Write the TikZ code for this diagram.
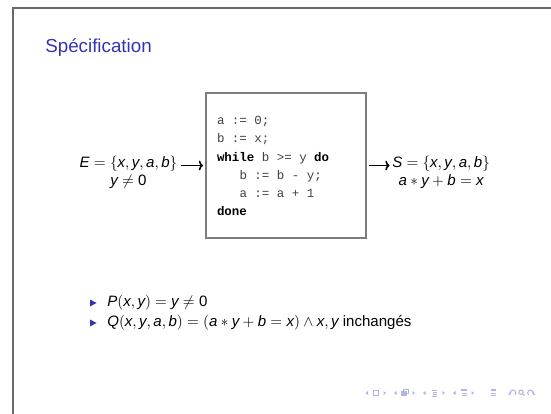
\documentclass[tikz,border=0pt]{standalone}
\usepackage{fontspec}
\setsansfont{Liberation Sans}
\setmonofont{Liberation Mono}
\usetikzlibrary{arrows.meta}
\definecolor{struct}{RGB}{51,51,179}
\definecolor{framegray}{RGB}{105,105,105}
\definecolor{boxgray}{RGB}{125,125,125}
\definecolor{navc}{RGB}{180,180,226}
\newcommand\mi[1]{\mbox{\sffamily\itshape #1}}
\newcommand\mup[1]{\mbox{\sffamily #1}}
\newcommand\kw[1]{{\color{black}\bfseries #1}}
\begin{document}
\begin{tikzpicture}[x=0.6579pt,y=-0.6579pt,
  body/.style={font=\fontsize{9.9}{12}\selectfont\sffamily, inner sep=0pt},
  codeline/.style={font=\fontsize{8.2}{12}\selectfont\ttfamily, inner sep=0pt, anchor=base west, text=black!75},
  flow/.style={-{To[length=2.8pt,width=6.4pt]}, line width=1.05pt},
  bullet/.style={fill=struct},
  navline/.style={draw=navc, line width=0.55pt},
  navfill/.style={fill=navc}
]
\useasboundingbox (0,0) rectangle (551,414);
% slide frame
\draw[framegray, line width=0.9pt] (551,8) -- (13,8) -- (13,414);
% title
\node[inner sep=0pt, anchor=base west, text=struct, font=\fontsize{12.35}{15}\selectfont\sffamily] (title) at (45,52.5) {Spécification};

% program box
\node[draw=boxgray, line width=1.1pt, minimum width=105.3pt, minimum height=95.4pt, inner sep=0pt] (box) at (286,165.5) {};
\node[codeline] (c1) at (216.7,124.5) {a := 0;};
\node[codeline] (c2) at (216.7,142.8) {b := x;};
\node[codeline] (c3) at (216.7,161.1) {\kw{while} b >= y \kw{do}};
\node[codeline] (c4) at (239.2,179.4) {b := b - y;};
\node[codeline] (c5) at (239.2,197.7) {a := a + 1};
\node[codeline] (c6) at (216.7,216.0) {\kw{done}};

% input
\node[body, anchor=base] (e1) at (128.5,168) {$\mi{E} = \{\mi{x},\mi{y},\mi{a},\mi{b}\}$};
\node[body, anchor=base, yshift=-11.2pt] (e2) at (e1.base) {$\mi{y} \neq \mup{0}$};
% output
\node[body, anchor=base west] (s1) at (392,168) {$\mi{S} = \{\mi{x},\mi{y},\mi{a},\mi{b}\}$};
\node[body, anchor=base, yshift=-11.2pt] (s2) at (s1.base) {$\mi{a}\ast\mi{y}+\mi{b} = \mi{x}$};

\draw[flow, shorten <=2.4pt, shorten >=1.4pt] (e1.east |- box.west) -- (box.west);
\draw[flow, shorten <=1.2pt, shorten >=1.6pt] (box.east) -- (s1.west |- box.east);

% items
\fill[bullet] (90,299.5) -- (96.5,303) -- (90,306.5) -- cycle;
\fill[bullet] (90,319.5) -- (96.5,323) -- (90,326.5) -- cycle;
\node[body, anchor=base west] (p) at (107,307) {$\mi{P}(\mi{x},\mi{y}) = \mi{y} \neq \mup{0}$};
\node[body, anchor=base west] (q) at (107,327) {$\mi{Q}(\mi{x},\mi{y},\mi{a},\mi{b}) = (\mi{a}\ast\mi{y}+\mi{b} = \mi{x}) \wedge \mi{x},\mi{y}$ inchangés};

% navigation symbols
\begin{scope}
% slide
\fill[navc] (368,391) -- (365.5,393) -- (368,395) -- cycle;
\draw[navline] (373,390.8) rectangle (378.5,395.2);
\fill[navc] (383.5,391) -- (386,393) -- (383.5,395) -- cycle;
% frame
\fill[navc] (396.5,391) -- (394,393) -- (396.5,395) -- cycle;
\draw[navline] (403.5,389.3) rectangle (408.8,393.5);
\fill[navc] (401,391.3) rectangle (406.5,396);
\fill[navc] (412.5,391) -- (415,393) -- (412.5,395) -- cycle;
% subsection
\fill[navc] (425.5,391) -- (423,393) -- (425.5,395) -- cycle;
\draw[navline] (431.5,390) -- (437,390) (432.5,392) -- (437,392) (432.5,394) -- (437,394) (431.5,396) -- (437,396);
\fill[navc] (442.5,391) -- (445,393) -- (442.5,395) -- cycle;
% section
\fill[navc] (455.5,391) -- (453,393) -- (455.5,395) -- cycle;
\fill[navc] (461,389.5) rectangle (467,391.3);
\draw[navline] (462,393) -- (467,393) (462,395) -- (467,395);
\fill[navc] (471.5,391) -- (474,393) -- (471.5,395) -- cycle;
% document
\fill[navc] (490.5,389.5) rectangle (495.5,391.3);
\draw[navline] (490.5,393) -- (495.5,393) (490.5,395) -- (495.5,395);
% back, search, forward
\draw[navline, line width=0.7pt, -{To[length=1.2pt,width=2.6pt]}] (515,395) arc[start angle=45, end angle=-215, radius=2.9];
\draw[navline, line width=0.7pt] (521,392.2) circle[radius=2.2] (522.7,393.9) -- (524.6,395.8);
\draw[navline, line width=0.7pt, -{To[length=1.2pt,width=2.6pt]}] (528.5,395) arc[start angle=135, end angle=395, radius=2.9];
\end{scope}
\end{tikzpicture}
\end{document}
